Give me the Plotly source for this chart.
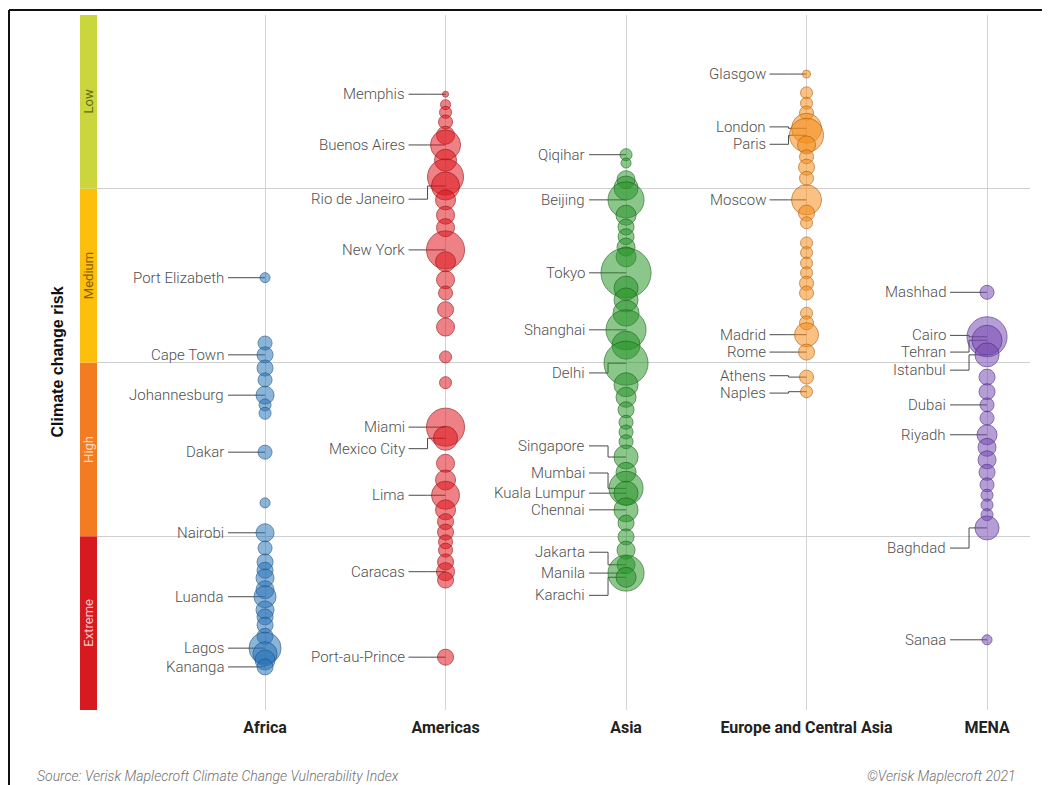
import plotly.graph_objects as go

# ---------------- data ----------------
regions = ["Africa", "Americas", "Asia", "Europe and Central Asia", "MENA"]
region_colors = ["rgba(40,116,184,0.76)", "rgba(222,20,28,0.76)", "rgba(40,148,40,0.76)",
                 "rgba(246,140,24,0.76)", "rgba(118,72,178,0.76)"]
region_lines = ["#1d5688", "#9c1014", "#1b661b", "#b5620c", "#4f2f86"]

# vulnerability score (0 = most exposed, 10 = least) and bubble diameter
africa_score = [6.22, 5.28, 5.11, 4.92, 4.75, 4.53, 4.39, 4.27, 3.71, 2.98, 2.55, 2.33, 2.13,
                2.01, 1.90, 1.73, 1.63, 1.44, 1.34, 1.22, 1.06, 0.89, 0.81, 0.72, 0.62]
africa_size = [10, 14, 16, 16, 14, 18, 12, 12, 14, 10, 18, 14, 16,
               16, 18, 18, 22, 18, 16, 16, 16, 32, 24, 20, 16]

americas_score = [8.86, 8.71, 8.60, 8.46, 8.27, 8.13, 7.91, 7.67, 7.54, 7.34, 7.12, 6.94, 6.62,
                  6.45, 6.19, 6.00, 5.76, 5.51, 5.08, 4.71, 4.07, 3.91, 3.55, 3.31, 3.09, 2.88,
                  2.71, 2.56, 2.42, 2.30, 2.13, 1.99, 1.87, 0.76]
americas_size = [6, 10, 12, 14, 18, 30, 22, 36, 28, 20, 18, 18, 38,
                 20, 18, 14, 16, 18, 12, 12, 38, 24, 18, 20, 28, 20,
                 16, 16, 14, 14, 16, 18, 16, 16]

asia_score = [7.99, 7.87, 7.63, 7.51, 7.34, 7.12, 6.95, 6.81, 6.66, 6.52, 6.29, 6.07, 5.90,
              5.71, 5.47, 5.25, 4.99, 4.68, 4.50, 4.32, 4.14, 4.00, 3.86, 3.64, 3.42, 3.19,
              3.12, 2.88, 2.69, 2.49, 2.30, 2.09, 1.97, 1.91]
asia_size = [12, 10, 18, 24, 36, 20, 16, 16, 18, 20, 50, 24, 24,
             26, 40, 28, 44, 24, 20, 16, 14, 14, 14, 24, 20, 34,
             24, 24, 16, 16, 18, 18, 36, 20]

europe_score = [9.15, 8.88, 8.73, 8.59, 8.37, 8.27, 8.13, 7.96, 7.81, 7.65, 7.34, 7.15, 7.01,
                6.72, 6.58, 6.43, 6.29, 6.14, 6.00, 5.71, 5.57, 5.40, 5.15, 4.79, 4.58]
europe_size = [8, 12, 12, 14, 30, 34, 18, 14, 16, 14, 30, 16, 12,
               12, 12, 12, 12, 14, 14, 12, 14, 24, 16, 14, 12]

mena_score = [6.01, 5.37, 5.32, 5.11, 4.79, 4.58, 4.39, 4.20, 3.96, 3.78, 3.60, 3.42, 3.24,
              3.09, 2.95, 2.81, 2.62, 1.01]
mena_size = [14, 40, 30, 24, 16, 16, 14, 14, 20, 18, 18, 16, 14,
             12, 12, 12, 24, 10]

# city labels: name, label position, bubble position
africa_labels = ["Port Elizabeth", "Cape Town", "Johannesburg", "Dakar", "Nairobi", "Luanda", "Lagos", "Kananga"]
africa_label_y = [6.22, 5.11, 4.53, 3.71, 2.55, 1.63, 0.89, 0.62]
africa_dot_y = [6.22, 5.11, 4.53, 3.71, 2.55, 1.63, 0.89, 0.62]

americas_labels = ["Memphis", "Buenos Aires", "Rio de Janeiro", "New York", "Miami", "Mexico City",
                   "Lima", "Caracas", "Port-au-Prince"]
americas_label_y = [8.86, 8.13, 7.35, 6.62, 4.07, 3.76, 3.09, 1.99, 0.76]
americas_dot_y = [8.86, 8.13, 7.54, 6.62, 4.07, 3.91, 3.09, 1.99, 0.76]

asia_labels = ["Qiqihar", "Beijing", "Tokyo", "Shanghai", "Delhi", "Singapore", "Mumbai",
               "Kuala Lumpur", "Chennai", "Jakarta", "Manila", "Karachi"]
asia_label_y = [7.99, 7.34, 6.29, 5.47, 4.85, 3.80, 3.41, 3.12, 2.88, 2.27, 1.97, 1.65]
asia_dot_y = [7.99, 7.34, 6.29, 5.47, 4.99, 3.64, 3.19, 3.12, 2.88, 2.09, 1.97, 1.91]

europe_labels = ["Glasgow", "London", "Paris", "Moscow", "Madrid", "Rome", "Athens", "Naples"]
europe_label_y = [9.15, 8.39, 8.14, 7.34, 5.40, 5.15, 4.81, 4.56]
europe_dot_y = [9.15, 8.37, 8.27, 7.34, 5.40, 5.15, 4.79, 4.58]

mena_labels = ["Mashhad", "Cairo", "Tehran", "Istanbul", "Dubai", "Riyadh", "Baghdad", "Sanaa"]
mena_label_y = [6.01, 5.39, 5.15, 4.89, 4.39, 3.96, 2.33, 1.01]
mena_dot_y = [6.01, 5.37, 5.32, 5.11, 4.39, 3.96, 2.62, 1.01]

risk_bands = ["Extreme", "High", "Medium", "Low"]
band_edges = [0, 2.5, 5, 7.5, 10]
band_colors = ["#d71920", "#f37b21", "#fbbf0c", "#cad63c"]
band_text_colors = ["#f8c4c4", "#fddcc2", "#8d5f00", "#5f6b12"]

# ---------------- figure ----------------
scores = [africa_score, americas_score, asia_score, europe_score, mena_score]
sizes = [africa_size, americas_size, asia_size, europe_size, mena_size]
labels = [africa_labels, americas_labels, asia_labels, europe_labels, mena_labels]
label_ys = [africa_label_y, americas_label_y, asia_label_y, europe_label_y, mena_label_y]
dot_ys = [africa_dot_y, americas_dot_y, asia_dot_y, europe_dot_y, mena_dot_y]

fig = go.Figure()
shapes = []
annotations = []

for i, reg in enumerate(regions):
    fig.add_trace(go.Scatter(
        x=[i] * len(scores[i]), y=scores[i], mode="markers",
        marker=dict(size=sizes[i], color=region_colors[i],
                    line=dict(color=region_lines[i], width=1)),
        hoverinfo="skip", showlegend=False, name=reg))
    for name, ly, dy in zip(labels[i], label_ys[i], dot_ys[i]):
        annotations.append(dict(x=i, y=ly, xref="x", yref="y", text=name, showarrow=False,
                                xanchor="right", yanchor="middle", xshift=-39,
                                font=dict(family="Roboto", size=15, color="#505050", weight=300)))
        shapes.append(dict(type="path", xref="x", yref="y", xsizemode="pixel", xanchor=i,
                           path=f"M-37,{ly} L-18,{ly} L-18,{dy} L0,{dy}",
                           line=dict(color="#4a4a4a", width=1), layer="between"))

# risk colour bar
for b, name in enumerate(risk_bands):
    shapes.append(dict(type="rect", xref="paper", yref="y", xsizemode="pixel", xanchor=0,
                       x0=-17, x1=0, y0=band_edges[b], y1=band_edges[b + 1],
                       fillcolor=band_colors[b], line=dict(width=0), layer="above"))
    annotations.append(dict(x=0, xref="paper", xshift=-8.5, xanchor="center",
                            y=(band_edges[b] + band_edges[b + 1]) / 2,
                            yref="y", yanchor="middle", text=name, textangle=-90, showarrow=False,
                            font=dict(family="Roboto", size=13, color=band_text_colors[b])))

# outer frame (top and left)
shapes.append(dict(type="line", xref="paper", yref="paper", xsizemode="pixel", ysizemode="pixel",
                   xanchor=0, yanchor=1, x0=-88, x1=960, y0=5, y1=5,
                   line=dict(color="#111", width=2)))
shapes.append(dict(type="line", xref="paper", yref="paper", xsizemode="pixel", ysizemode="pixel",
                   xanchor=0, yanchor=1, x0=-88, x1=-88, y0=5, y1=-780,
                   line=dict(color="#111", width=2)))

annotations.append(dict(x=0, xref="paper", xshift=-40, xanchor="center", y=5, yref="y",
                        yanchor="middle", text="<b>Climate change risk</b>",
                        textangle=-90, showarrow=False,
                        font=dict(family="Liberation Sans", size=16, color="#111")))
annotations.append(dict(x=0, xref="paper", xshift=-62, xanchor="left", y=0, yref="paper", yshift=-66,
                        yanchor="middle", text="<i>Source: Verisk Maplecroft Climate Change Vulnerability Index</i>",
                        showarrow=False, font=dict(family="Roboto", size=14, color="#707070", weight=300)))
annotations.append(dict(x=1, xref="paper", xshift=-12, xanchor="right", y=0, yref="paper", yshift=-66,
                        yanchor="middle", text="<i>©Verisk Maplecroft 2021</i>",
                        showarrow=False, font=dict(family="Roboto", size=14, color="#707070", weight=300)))

fig.update_layout(
    width=1042, height=777,
    margin=dict(l=89, r=20, t=7, b=75),
    paper_bgcolor="white", plot_bgcolor="white",
    shapes=shapes, annotations=annotations,
    xaxis=dict(range=[-0.931, 4.238], tickmode="array", tickvals=list(range(len(regions))),
               ticktext=[f"<b>{r}</b>" for r in regions], showgrid=True, gridcolor="#d4d4d4",
               gridwidth=1, zeroline=False, showline=False, ticks="outside", ticklen=3,
               tickcolor="rgba(0,0,0,0)",
               tickfont=dict(family="Roboto", size=16, color="#222")),
    yaxis=dict(range=[0, 10], tickmode="array", tickvals=band_edges, showticklabels=False,
               showgrid=True, gridcolor="#cfcfcf", gridwidth=1, zeroline=False, showline=False,
               ticks=""),
)

fig.write_html("out.html")
